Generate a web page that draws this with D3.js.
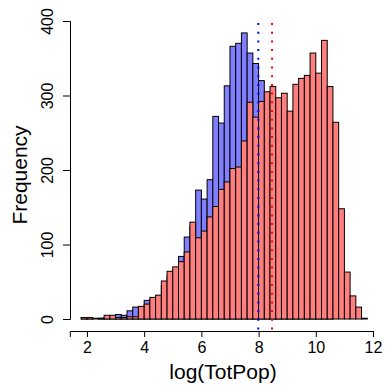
<!DOCTYPE html>
<html lang="en">
<head>
    <meta charset="UTF-8">
    <title>log(TotPop) histogram</title>
    <script src="https://d3js.org/d3.v7.min.js"></script>
    <style>
      body { margin: 0; background: #fff; }
      text { font-family: "Liberation Sans", Arial, Helvetica, sans-serif; fill: #000; }
    </style>
</head>
<body>
<div class="canvas"></div>
<script>
  // left edge of each bin (width 0.2)
  const binStarts = [1.4, 1.6, 1.8, 2.0, 2.2, 2.4, 2.6, 2.8, 3.0, 3.2, 3.4, 3.6, 3.8,
    4.0, 4.2, 4.4, 4.6, 4.8, 5.0, 5.2, 5.4, 5.6, 5.8, 6.0, 6.2, 6.4, 6.6, 6.8,
    7.0, 7.2, 7.4, 7.6, 7.8, 8.0, 8.2, 8.4, 8.6, 8.8, 9.0, 9.2, 9.4, 9.6, 9.8,
    10.0, 10.2, 10.4, 10.6, 10.8, 11.0, 11.2, 11.4, 11.6]
  const binWidth = 0.2

  // blue histogram (drawn first, partly hidden behind red)
  const blueCounts = [0, 0, 2, 1, 0, 1, 2, 2, 6, 5, 11, 16, 15,
    25, 27, 31, 45, 58, 66, 84, 110, 125, 173, 161, 187, 272, 263, 313,
    366, 370, 384, 357, 343, 320, 270, 215, 165, 120, 80, 50, 30, 15, 8,
    4, 2, 1, 0, 0, 0, 0, 0, 0]

  // red histogram (drawn on top)
  const redCounts = [0, 0, 2, 2, 1, 1, 5, 5, 2, 2, 3, 3, 17,
    20, 29, 32, 51, 64, 70, 77, 90, 130, 109, 118, 137, 151, 174, 184,
    202, 204, 239, 291, 271, 292, 305, 312, 297, 303, 279, 315, 323, 327, 357,
    330, 374, 312, 264, 148, 63, 31, 16, 1]

  const xTicks = [2, 4, 6, 8, 10, 12]
  const yTicks = [0, 100, 200, 300, 400]
  const blueMark = 7.99
  const redMark = 8.47

  const svg = d3.select('.canvas')
    .append('svg')
    .attr('width', 385)
    .attr('height', 387)

  const x = d3.scaleLinear()
    .domain([1.4, 12])
    .range([69.8, 373])
  const y = d3.scaleLinear()
    .domain([0, 400])
    .range([319, 21])

  const bins = (counts) => binStarts.map((s, i) => ({ x0: s, x1: s + binWidth, n: counts[i] }))

  function drawHist(counts, color) {
    svg.append('g')
      .selectAll('rect')
      .data(bins(counts))
      .enter()
      .append('rect')
      .attr('x', d => x(d.x0))
      .attr('width', d => x(d.x1) - x(d.x0))
      .attr('y', d => y(d.n))
      .attr('height', d => y(0) - y(d.n))
      .attr('fill', color)
      .attr('stroke', '#000')
      .attr('stroke-width', 1)
  }
  drawHist(blueCounts, '#7f7fff')
  drawHist(redCounts, '#ff7f7f')

  // dotted reference lines
  svg.selectAll('line.mark')
    .data([[blueMark, '#0000ff'], [redMark, '#ff0000']])
    .enter()
    .append('line')
    .attr('class', 'mark')
    .attr('x1', d => x(d[0]))
    .attr('x2', d => x(d[0]))
    .attr('y1', 23)
    .attr('y2', 332)
    .attr('stroke', d => d[1])
    .attr('stroke-width', 2)
    .attr('stroke-dasharray', '2,6.7')

  // x axis
  const xAxis = svg.append('g')
    .attr('transform', 'translate(0, 331)')
    .call(d3.axisBottom(x).tickValues(xTicks).tickSizeOuter(0).tickSize(6))
  xAxis.selectAll('text')
    .attr('font-size', 16)
    .attr('y', 11)
    .attr('dy', '0.71em')
  xAxis.select('.domain').attr('stroke', '#000')

  // y axis, labels parallel to the axis
  const yAxis = svg.append('g')
    .attr('transform', 'translate(70, 0)')
    .call(d3.axisLeft(y).tickValues(yTicks).tickSizeOuter(0).tickSize(7))
  yAxis.selectAll('text')
    .attr('font-size', 16)
    .attr('x', null)
    .attr('dy', null)
    .attr('text-anchor', 'middle')
    .attr('transform', 'translate(-17, 0) rotate(-90)')
  yAxis.select('.domain').attr('stroke', '#000')

  svg.append('text')
    .attr('x', 223)
    .attr('y', 379)
    .attr('text-anchor', 'middle')
    .attr('font-size', 21)
    .text('log(TotPop)')

  svg.append('text')
    .attr('transform', 'translate(27, 175) rotate(-90)')
    .attr('text-anchor', 'middle')
    .attr('font-size', 21)
    .text('Frequency')
</script>
</body>
</html>
